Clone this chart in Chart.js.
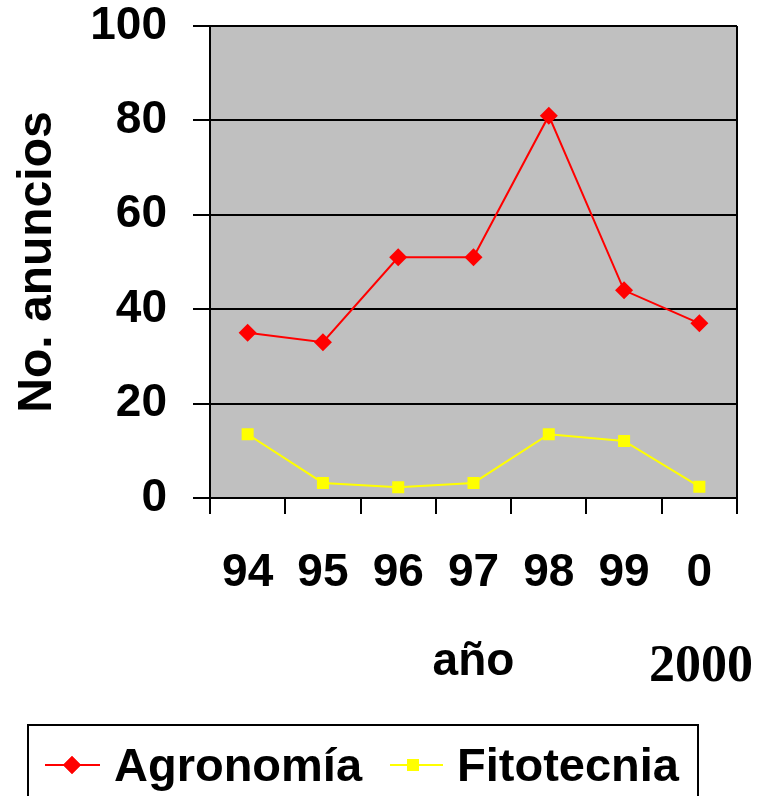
<!DOCTYPE html>
<html lang="es">
<head>
    <meta charset="UTF-8">
    <title>No. anuncios por año</title>
    <script src="https://cdn.jsdelivr.net/npm/chart.js"></script>
    <style>
        html, body { margin: 0; padding: 0; background: #ffffff; }
        canvas { display: block; }
    </style>
</head>
<body>
    <canvas id="grafico" width="765" height="796"></canvas>

    <script>
        // Datos
        const anios = ['94', '95', '96', '97', '98', '99', '0'];
        const agronomia = [35, 33, 51, 51, 81, 44, 37];
        const fitotecnia = [13.5, 3.2, 2.3, 3.2, 13.5, 12.1, 2.4];
        const ticksY = [0, 20, 40, 60, 80, 100];

        const fuente = '"Liberation Sans", Arial, sans-serif';

        // Fondo gris, borde del área, leyenda con recuadro y "2000"
        const extras = {
            id: 'extras',
            beforeDraw(chart) {
                const { ctx, chartArea: a } = chart;
                ctx.save();
                ctx.fillStyle = '#c0c0c0';
                ctx.fillRect(a.left, a.top, a.right - a.left, a.bottom - a.top);
                ctx.restore();
            },
            afterDraw(chart) {
                const { ctx, chartArea: a } = chart;
                ctx.save();
                ctx.strokeStyle = '#000000';
                ctx.lineWidth = 2;
                ctx.beginPath();
                ctx.moveTo(a.right, a.top);
                ctx.lineTo(a.right, a.bottom);
                ctx.stroke();

                // recuadro de la leyenda
                ctx.strokeRect(28, 725, 670, 90);

                const ds = chart.data.datasets;
                const items = [
                    { x1: 45, x2: 100, mx: 72, tx: 114, d: ds[0] },
                    { x1: 390, x2: 443, mx: 413, tx: 457, d: ds[1] }
                ];
                items.forEach(it => {
                    ctx.strokeStyle = it.d.borderColor;
                    ctx.lineWidth = 2;
                    ctx.beginPath();
                    ctx.moveTo(it.x1, 765);
                    ctx.lineTo(it.x2, 765);
                    ctx.stroke();
                    ctx.fillStyle = it.d.borderColor;
                    Chart.helpers.drawPoint(ctx, {
                        pointStyle: it.d.pointStyle,
                        radius: it.d.pointRadius,
                        borderWidth: 0,
                        rotation: 0
                    }, it.mx, 765);
                    ctx.fill();
                    ctx.fillStyle = '#000000';
                    ctx.font = 'bold 47px ' + fuente;
                    ctx.textAlign = 'left';
                    ctx.textBaseline = 'alphabetic';
                    ctx.fillText(it.d.label, it.tx, 781);
                });

                ctx.fillStyle = '#000000';
                ctx.font = 'bold 52px "Liberation Serif", "Times New Roman", serif';
                ctx.textAlign = 'center';
                ctx.fillText('2000', 701, 681);
                ctx.restore();
            }
        };

        const ctx = document.getElementById('grafico').getContext('2d');
        const grafico = new Chart(ctx, {
            type: 'line',
            data: {
                labels: anios,
                datasets: [{
                    label: 'Agronomía',
                    data: agronomia,
                    borderColor: '#ff0000',
                    backgroundColor: '#ff0000',
                    borderWidth: 2,
                    pointStyle: 'rectRot',
                    pointRadius: 9,
                    pointBorderWidth: 0,
                    tension: 0
                }, {
                    label: 'Fitotecnia',
                    data: fitotecnia,
                    borderColor: '#ffff00',
                    backgroundColor: '#ffff00',
                    borderWidth: 2,
                    pointStyle: 'rect',
                    pointRadius: 8.5,
                    pointBorderWidth: 0,
                    tension: 0
                }]
            },
            options: {
                responsive: false,
                animation: false,
                devicePixelRatio: 1,
                layout: { padding: { top: 0, right: 28, left: 0, bottom: 0 } },
                plugins: {
                    legend: { display: false },
                    tooltip: { enabled: false }
                },
                scales: {
                    x: {
                        offset: true,
                        grid: {
                            offset: true,
                            drawOnChartArea: false,
                            color: '#000000',
                            lineWidth: 2,
                            tickLength: 16
                        },
                        border: { color: '#000000', width: 2 },
                        ticks: {
                            color: '#000000',
                            padding: 32,
                            font: { family: fuente, size: 46, weight: 'bold' }
                        },
                        title: {
                            display: true,
                            text: 'año',
                            color: '#000000',
                            font: { family: fuente, size: 46, weight: 'bold' },
                            padding: { top: 0, bottom: 106 }
                        },
                        afterFit(scale) {
                            scale.height = 298;
                            scale.paddingLeft = 0;
                            scale.paddingRight = 0;
                        }
                    },
                    y: {
                        min: 0,
                        max: 100,
                        afterBuildTicks(scale) {
                            scale.ticks = ticksY.map(v => ({ value: v }));
                        },
                        grid: {
                            color: '#000000',
                            lineWidth: 2,
                            tickLength: 17
                        },
                        border: { color: '#000000', width: 2 },
                        ticks: {
                            color: '#000000',
                            padding: 26,
                            font: { family: fuente, size: 46, weight: 'bold' }
                        },
                        title: {
                            display: true,
                            text: 'No. anuncios',
                            color: '#000000',
                            font: { family: fuente, size: 48, weight: 'bold' },
                            padding: { top: 9, bottom: 0 }
                        },
                        afterFit(scale) {
                            scale.width = 210;
                            scale.paddingTop = 26;
                            scale.paddingBottom = 0;
                        }
                    }
                }
            },
            plugins: [extras]
        });
    </script>
</body>
</html>
